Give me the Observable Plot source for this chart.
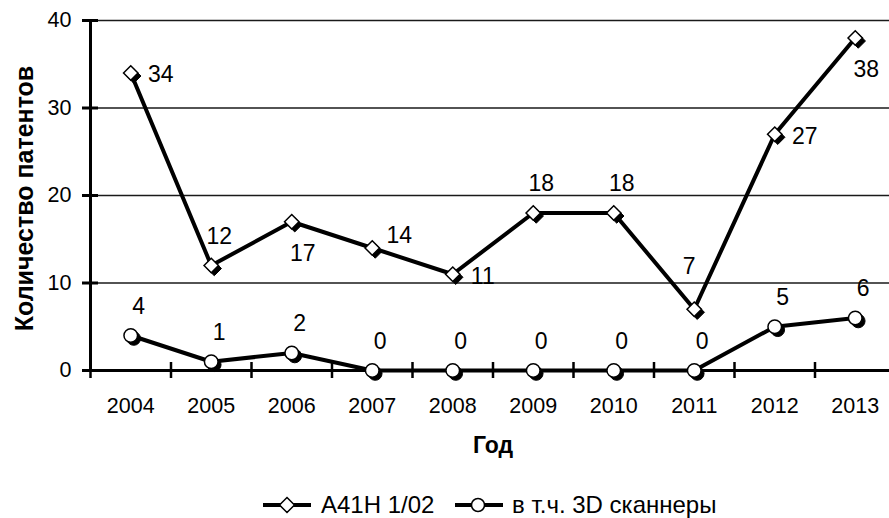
<!DOCTYPE html>
<html>
<head>
<meta charset="utf-8">
<script src="https://cdn.jsdelivr.net/npm/d3@7"></script>
<script src="https://cdn.jsdelivr.net/npm/@observablehq/plot@0.6"></script>
<style>
  body { margin: 0; background: #fff; }
  #wrap { position: relative; width: 889px; height: 518px; overflow: hidden; font-family: "Liberation Sans", Arial, sans-serif; }
  .lg { position: absolute; top: 491px; height: 28px; line-height: 28px; font-size: 24px; color: #000; white-space: nowrap; }
  .lg svg { display: block; }
</style>
</head>
<body>
<div id="wrap"></div>
<script>
// ---- data ----
const years = ["2004", "2005", "2006", "2007", "2008", "2009", "2010", "2011", "2012", "2013"];
const a41h = [34, 12, 17, 14, 11, 18, 18, 7, 27, 38];
const scanners = [4, 1, 2, 0, 0, 0, 0, 0, 5, 6];
const yTicks = [0, 10, 20, 30, 40];
const seriesNames = ["A41H 1/02", "в т.ч. 3D сканнеры"];
const xTitle = "Год";
const yTitle = "Количество патентов";
// label placement relative to each point (words, mapped to offsets below)
const a41hLabelSide = ["right", "above", "below", "upright", "right", "above", "above", "high", "right", "below"];
const scannerLabelSide = ["above", "above", "above", "above", "above", "above", "above", "above", "above", "above"];

// ---- layout / style ----
const sideOffset = {
  right: [30, 2], above: [8, -29], below: [11, 32], upright: [27, -12], high: [-5, -43]
};
const FONT = "Liberation Sans, Arial, sans-serif";

const rows = years.map((yr, i) => ({ i, yr, a: a41h[i], s: scanners[i], sa: a41hLabelSide[i], ss: scannerLabelSide[i] }));
const edges = d3.range(-0.5, years.length, 1);

function labelMarks(valueKey, sideKey) {
  return Object.keys(sideOffset).map(side =>
    Plot.text(rows.filter(d => d[sideKey] === side), {
      x: "i", y: valueKey, text: d => String(d[valueKey]),
      dx: sideOffset[side][0], dy: sideOffset[side][1],
      fontSize: 23, textAnchor: "middle", lineAnchor: "middle", fill: "black"
    })
  );
}

const chart = Plot.plot({
  width: 889,
  height: 518,
  marginLeft: 90,
  marginRight: -6,
  marginTop: 20,
  marginBottom: 148,
  style: { fontFamily: FONT, background: "white", color: "black", overflow: "visible" },
  x: { domain: [-0.5, years.length - 0.5] },
  y: { domain: [0, 40] },
  marks: [
    Plot.gridY(yTicks.filter(t => t > 0), { stroke: "#1a1a1a", strokeOpacity: 1, strokeWidth: 1.4 }),
    Plot.ruleY([0], { stroke: "black", strokeWidth: 3 }),
    Plot.ruleX([-0.5], { y1: 0, y2: 40, stroke: "black", strokeWidth: 3 }),
    Plot.axisY({ ticks: yTicks, tickSize: 16, dx: 8, tickPadding: 11, strokeWidth: 3, strokeOpacity: 1, fontSize: 21.5, label: null }),
    Plot.axisX({ ticks: edges, tickSize: 16, dy: -8, strokeWidth: 2.5, strokeOpacity: 1, tickFormat: () => "", label: null }),
    Plot.axisX({ ticks: d3.range(years.length), tickSize: 0, tickPadding: 27, tickFormat: i => years[i], fontSize: 21.5, label: null }),
    Plot.text([xTitle], { frameAnchor: "bottom", dy: 75, text: d => d, fontSize: 23, fontWeight: "bold", lineAnchor: "middle" }),
    Plot.text([yTitle], { frameAnchor: "left", dx: -66, dy: 3, rotate: -90, text: d => d, fontSize: 25, fontWeight: "bold", lineAnchor: "middle", textAnchor: "middle" }),

    // series lines
    Plot.line(rows, { x: "i", y: "a", stroke: "black", strokeWidth: 4, strokeLinejoin: "round" }),
    Plot.line(rows, { x: "i", y: "s", stroke: "black", strokeWidth: 4, strokeLinejoin: "round" }),

    // marker shadows
    Plot.dot(rows, { x: "i", y: "a", symbol: "diamond2", r: 6.5, fill: "black", stroke: "black", strokeWidth: 1, dx: 3, dy: 3 }),
    Plot.dot(rows, { x: "i", y: "s", symbol: "circle", r: 6.8, fill: "black", stroke: "black", strokeWidth: 1, dx: 3, dy: 3 }),
    // markers
    Plot.dot(rows, { x: "i", y: "a", symbol: "diamond2", r: 6.5, fill: "white", stroke: "black", strokeWidth: 1.5 }),
    Plot.dot(rows, { x: "i", y: "s", symbol: "circle", r: 6.8, fill: "white", stroke: "black", strokeWidth: 1.5 }),

    ...labelMarks("a", "sa"),
    ...labelMarks("s", "ss")
  ]
});

const wrap = document.getElementById("wrap");
wrap.appendChild(chart);

// legend (below the plot area)
const legendItems = [
  { left: 263, html: '<svg width="48" height="28"><line x1="0" y1="14" x2="48" y2="14" stroke="black" stroke-width="4"/><path d="M24,6.5 L31.5,14 L24,21.5 L16.5,14 Z" fill="white" stroke="black" stroke-width="1.5"/></svg>' },
  { left: 321, text: seriesNames[0] },
  { left: 455, html: '<svg width="48" height="28"><line x1="0" y1="14" x2="48" y2="14" stroke="black" stroke-width="4"/><circle cx="23" cy="14" r="6.5" fill="white" stroke="black" stroke-width="1.5"/></svg>' },
  { left: 512, text: seriesNames[1] }
];
for (const it of legendItems) {
  const el = document.createElement("div");
  el.className = "lg";
  el.style.left = it.left + "px";
  if (it.html) el.innerHTML = it.html; else el.textContent = it.text;
  wrap.appendChild(el);
}
</script>
</body>
</html>
